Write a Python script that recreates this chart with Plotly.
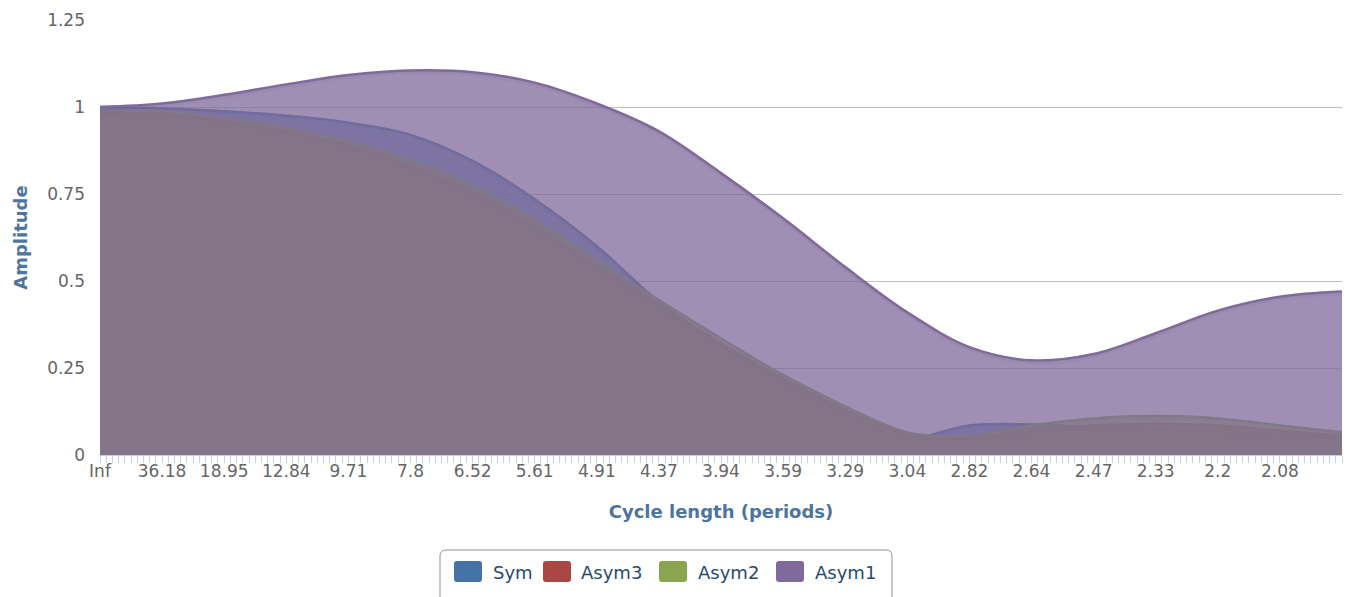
import plotly.graph_objects as go

# ---- data -------------------------------------------------------------
# category index of every tick label (one category per tick mark)
label_index = list(range(0, 200, 10))
cycle_labels = ["Inf", "36.18", "18.95", "12.84", "9.71", "7.8", "6.52", "5.61",
                "4.91", "4.37", "3.94", "3.59", "3.29", "3.04", "2.82", "2.64",
                "2.47", "2.33", "2.2", "2.08"]
n_categories = 201

# values at every 10th category
sample_index = list(range(0, 201, 10))
sym = [1.0, 0.996, 0.988, 0.975, 0.955, 0.92, 0.845, 0.735, 0.60, 0.44, 0.32,
       0.21, 0.12, 0.05, 0.085, 0.088, 0.08, 0.075, 0.066, 0.058, 0.052]
asym3 = [0.985, 0.98, 0.96, 0.93, 0.89, 0.83, 0.755, 0.655, 0.54, 0.43, 0.32,
         0.22, 0.13, 0.06, 0.05, 0.07, 0.085, 0.09, 0.085, 0.07, 0.055]
asym2 = [0.99, 0.987, 0.967, 0.94, 0.90, 0.847, 0.773, 0.675, 0.56, 0.445, 0.335,
         0.23, 0.14, 0.065, 0.055, 0.085, 0.105, 0.112, 0.105, 0.085, 0.065]
asym1 = [1.0, 1.01, 1.035, 1.065, 1.092, 1.105, 1.10, 1.07, 1.01, 0.93, 0.81,
         0.68, 0.54, 0.41, 0.31, 0.272, 0.29, 0.35, 0.415, 0.455, 0.47]

series_names = ["Sym", "Asym3", "Asym2", "Asym1"]
series_values = [sym, asym3, asym2, asym1]
series_colors = ["#4572A7", "#AA4643", "#89A54E", "#80699B"]

# ---- geometry helpers (page pixel coordinates) -------------------------
BODY = 8                      # default page margin around the plot div
PAGE_W, PAGE_H = 1351, 597
W, H = PAGE_W - BODY, PAGE_H - BODY
PL, PR, PT, PB = 100, 1342, 20, 455   # plot area on the page
ML, MT = PL - BODY, PT - BODY
MR = W - (PR - BODY)
MB = H - (PB - BODY)
PW, PH = PR - PL, PB - PT


def px(x):
    return (x - PL) / PW


def py(y):
    return (PB - y) / PH


def rounded_rect(x0, y0, x1, y1, r):
    rx, ry = r / PW, r / PH
    X0, X1 = px(x0), px(x1)
    Y0, Y1 = py(y0), py(y1)  # Y0 top, Y1 bottom
    return (f"M {X0+rx},{Y0} L {X1-rx},{Y0} Q {X1},{Y0} {X1},{Y0-ry} "
            f"L {X1},{Y1+ry} Q {X1},{Y1} {X1-rx},{Y1} L {X0+rx},{Y1} "
            f"Q {X0},{Y1} {X0},{Y1+ry} L {X0},{Y0-ry} Q {X0},{Y0} {X0+rx},{Y0} Z")


def rgba(hexcol, a):
    h = hexcol.lstrip("#")
    return f"rgba({int(h[0:2],16)},{int(h[2:4],16)},{int(h[4:6],16)},{a})"


fig = go.Figure()
for name, vals, col in zip(series_names, series_values, series_colors):
    # faint shadow under the line (Highcharts-style)
    fig.add_trace(go.Scatter(
        x=sample_index, y=[v - 0.004 for v in vals], mode="lines", hoverinfo="skip",
        line=dict(color="rgba(0,0,0,0.08)", width=5, shape="spline", smoothing=1.0),
        showlegend=False,
    ))
    fig.add_trace(go.Scatter(
        x=sample_index, y=vals, name=name, mode="lines",
        line=dict(color=col, width=2.5, shape="spline", smoothing=1.0),
        fill="tozeroy", fillcolor=rgba(col, 0.75), showlegend=False,
    ))

FONT = "DejaVu Sans, Verdana, sans-serif"

fig.update_layout(
    width=W, height=H, autosize=False,
    margin=dict(l=ML, r=MR, t=MT, b=MB),
    plot_bgcolor="white", paper_bgcolor="white",
    font=dict(family=FONT, size=17, color="#666666"),
    xaxis=dict(
        range=[0, n_categories - 1], tickmode="array", automargin=False,
        tickvals=label_index, ticktext=cycle_labels,
        ticks="outside", ticklen=7, tickcolor="#C0D0E0", tickwidth=1,
        ticklabelstandoff=-6,
        showgrid=False, zeroline=False,
        showline=True, linecolor="#C0D0E0", linewidth=1,
        tickfont=dict(size=17, color="#666666"),
        minor=dict(dtick=1, tick0=0, ticks="outside", ticklen=7,
                   tickcolor="#C0D0E0", tickwidth=1, showgrid=False),
        title=dict(text="Cycle length (periods)", standoff=24,
                   font=dict(size=18, color="#4d759e", family=FONT, weight="bold")),
    ),
    yaxis=dict(
        range=[0, 1.25], tickmode="linear", tick0=0, dtick=0.25, automargin=False,
        showgrid=True, gridcolor="#C0C0C0", gridwidth=1, zeroline=False,
        ticks="", ticklabelstandoff=14, showline=False,
        tickfont=dict(size=17, color="#666666"),
        title=dict(text="Amplitude", standoff=14,
                   font=dict(size=18, color="#4d759e", family=FONT, weight="bold")),
    ),
)

# ---- manual legend ----------------------------------------------------
shapes = [dict(type="path", xref="paper", yref="paper",
               path=rounded_rect(440, 550, 892, 610, 6),
               line=dict(color="#909090", width=1), fillcolor="white", layer="above")]
annotations = []
swatch_x = [454, 543, 659, 776]
text_x = [491, 579, 696, 813]
for sx, tx, name, col in zip(swatch_x, text_x, series_names, series_colors):
    shapes.append(dict(type="path", xref="paper", yref="paper",
                       path=rounded_rect(sx, 561, sx + 28, 582, 3),
                       line=dict(width=0), fillcolor=col, layer="above"))
    annotations.append(dict(xref="paper", yref="paper", x=px(tx), y=py(572),
                            text=name, showarrow=False, xanchor="left", yanchor="middle",
                            font=dict(size=18, color="#274b6d", family=FONT)))
fig.update_layout(shapes=shapes, annotations=annotations)

fig.write_html("out.html")
